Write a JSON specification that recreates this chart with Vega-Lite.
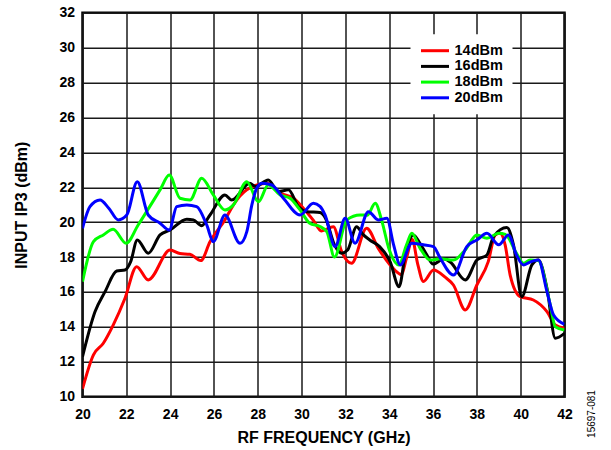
{
  "$schema": "https://vega.github.io/schema/vega-lite/v6.json",
  "width": 482,
  "height": 384,
  "autosize": {"type": "none"},
  "padding": {"left": 82.5, "top": 12.7, "right": 46.5, "bottom": 53.3},
  "background": "white",
  "config": {
    "font": "Liberation Sans",
    "view": {"stroke": "#000", "strokeWidth": 2.5},
    "axis": {
      "grid": true, "gridColor": "#1a1a1a", "gridWidth": 1.5, "gridOpacity": 1,
      "domain": false, "ticks": false, "tickSize": 0,
      "labelFont": "Liberation Sans", "labelFontSize": 14, "labelFontWeight": "bold", "labelColor": "#000",
      "titleFont": "Liberation Sans", "titleFontSize": 16, "titleFontWeight": "bold", "titleColor": "#000"
    }
  },
  "data": {"values": [
    {"f":20.0,"v":10.45,"s":"14dBm"},{"f":20.5,"v":12.4,"s":"14dBm"},{"f":20.95,"v":13.06,"s":"14dBm"},{"f":21.4,"v":14.1,"s":"14dBm"},{"f":21.94,"v":15.64,"s":"14dBm"},{"f":22.47,"v":17.45,"s":"14dBm"},{"f":23.0,"v":16.69,"s":"14dBm"},{"f":24.0,"v":18.4,"s":"14dBm"},{"f":24.45,"v":18.2,"s":"14dBm"},{"f":24.9,"v":18.16,"s":"14dBm"},{"f":25.4,"v":17.8,"s":"14dBm"},{"f":25.82,"v":18.88,"s":"14dBm"},{"f":26.5,"v":20.13,"s":"14dBm"},{"f":26.89,"v":20.99,"s":"14dBm"},{"f":27.5,"v":21.85,"s":"14dBm"},{"f":28.41,"v":22.23,"s":"14dBm"},{"f":29.02,"v":21.66,"s":"14dBm"},{"f":29.63,"v":21.37,"s":"14dBm"},{"f":30.08,"v":20.8,"s":"14dBm"},{"f":30.54,"v":20.1,"s":"14dBm"},{"f":30.9,"v":19.5,"s":"14dBm"},{"f":31.45,"v":19.74,"s":"14dBm"},{"f":31.83,"v":18.31,"s":"14dBm"},{"f":32.28,"v":17.64,"s":"14dBm"},{"f":32.97,"v":19.65,"s":"14dBm"},{"f":33.5,"v":18.5,"s":"14dBm"},{"f":34.04,"v":17.55,"s":"14dBm"},{"f":34.3,"v":17.2,"s":"14dBm"},{"f":34.55,"v":17.0,"s":"14dBm"},{"f":34.8,"v":18.0,"s":"14dBm"},{"f":35.05,"v":19.0,"s":"14dBm"},{"f":35.3,"v":17.6,"s":"14dBm"},{"f":35.56,"v":16.6,"s":"14dBm"},{"f":36.02,"v":17.26,"s":"14dBm"},{"f":36.55,"v":16.85,"s":"14dBm"},{"f":36.93,"v":16.4,"s":"14dBm"},{"f":37.47,"v":14.97,"s":"14dBm"},{"f":38.0,"v":16.4,"s":"14dBm"},{"f":38.52,"v":17.74,"s":"14dBm"},{"f":38.84,"v":19.27,"s":"14dBm"},{"f":39.06,"v":19.36,"s":"14dBm"},{"f":39.29,"v":18.7,"s":"14dBm"},{"f":39.52,"v":16.97,"s":"14dBm"},{"f":39.98,"v":15.73,"s":"14dBm"},{"f":40.58,"v":15.54,"s":"14dBm"},{"f":41.2,"v":14.87,"s":"14dBm"},{"f":41.58,"v":14.11,"s":"14dBm"},{"f":42.0,"v":13.92,"s":"14dBm"},

    {"f":20.0,"v":12.29,"s":"16dBm"},{"f":20.57,"v":14.87,"s":"16dBm"},{"f":21.03,"v":16.02,"s":"16dBm"},{"f":21.56,"v":17.2,"s":"16dBm"},{"f":21.94,"v":17.26,"s":"16dBm"},{"f":22.2,"v":17.74,"s":"16dBm"},{"f":22.5,"v":18.98,"s":"16dBm"},{"f":23.0,"v":18.22,"s":"16dBm"},{"f":23.54,"v":19.27,"s":"16dBm"},{"f":24.0,"v":19.55,"s":"16dBm"},{"f":24.76,"v":20.17,"s":"16dBm"},{"f":25.06,"v":20.13,"s":"16dBm"},{"f":25.44,"v":19.8,"s":"16dBm"},{"f":25.82,"v":20.41,"s":"16dBm"},{"f":26.5,"v":21.56,"s":"16dBm"},{"f":26.81,"v":21.27,"s":"16dBm"},{"f":27.63,"v":22.23,"s":"16dBm"},{"f":27.9,"v":22.04,"s":"16dBm"},{"f":28.48,"v":22.42,"s":"16dBm"},{"f":28.94,"v":21.75,"s":"16dBm"},{"f":29.4,"v":21.85,"s":"16dBm"},{"f":29.85,"v":20.89,"s":"16dBm"},{"f":30.24,"v":20.6,"s":"16dBm"},{"f":30.84,"v":20.55,"s":"16dBm"},{"f":31.1,"v":20.2,"s":"16dBm"},{"f":31.5,"v":18.7,"s":"16dBm"},{"f":31.83,"v":18.22,"s":"16dBm"},{"f":32.1,"v":18.4,"s":"16dBm"},{"f":32.51,"v":19.74,"s":"16dBm"},{"f":32.8,"v":19.3,"s":"16dBm"},{"f":33.11,"v":18.98,"s":"16dBm"},{"f":33.56,"v":18.6,"s":"16dBm"},{"f":34.04,"v":17.74,"s":"16dBm"},{"f":34.45,"v":16.3,"s":"16dBm"},{"f":34.73,"v":18.12,"s":"16dBm"},{"f":35.1,"v":19.27,"s":"16dBm"},{"f":35.4,"v":18.79,"s":"16dBm"},{"f":35.72,"v":18.12,"s":"16dBm"},{"f":36.0,"v":17.6,"s":"16dBm"},{"f":36.5,"v":17.9,"s":"16dBm"},{"f":36.8,"v":17.7,"s":"16dBm"},{"f":37.47,"v":16.69,"s":"16dBm"},{"f":38.0,"v":17.83,"s":"16dBm"},{"f":38.46,"v":18.12,"s":"16dBm"},{"f":38.76,"v":19.17,"s":"16dBm"},{"f":39.37,"v":19.69,"s":"16dBm"},{"f":39.67,"v":18.7,"s":"16dBm"},{"f":40.05,"v":15.73,"s":"16dBm"},{"f":40.51,"v":17.55,"s":"16dBm"},{"f":40.81,"v":17.83,"s":"16dBm"},{"f":41.2,"v":16.21,"s":"16dBm"},{"f":41.58,"v":13.35,"s":"16dBm"},{"f":42.0,"v":13.63,"s":"16dBm"},

    {"f":20.0,"v":16.59,"s":"18dBm"},{"f":20.5,"v":18.88,"s":"18dBm"},{"f":20.95,"v":19.27,"s":"18dBm"},{"f":21.4,"v":19.59,"s":"18dBm"},{"f":21.99,"v":18.79,"s":"18dBm"},{"f":22.54,"v":19.84,"s":"18dBm"},{"f":23.54,"v":21.85,"s":"18dBm"},{"f":23.96,"v":22.7,"s":"18dBm"},{"f":24.45,"v":21.37,"s":"18dBm"},{"f":24.91,"v":21.27,"s":"18dBm"},{"f":25.44,"v":22.52,"s":"18dBm"},{"f":25.97,"v":21.56,"s":"18dBm"},{"f":26.5,"v":20.7,"s":"18dBm"},{"f":26.89,"v":20.99,"s":"18dBm"},{"f":27.5,"v":22.32,"s":"18dBm"},{"f":28.03,"v":21.17,"s":"18dBm"},{"f":28.48,"v":22.13,"s":"18dBm"},{"f":29.02,"v":21.56,"s":"18dBm"},{"f":29.47,"v":21.37,"s":"18dBm"},{"f":29.93,"v":20.7,"s":"18dBm"},{"f":30.37,"v":19.94,"s":"18dBm"},{"f":30.84,"v":19.75,"s":"18dBm"},{"f":31.15,"v":19.46,"s":"18dBm"},{"f":31.5,"v":18.0,"s":"18dBm"},{"f":32.06,"v":20.13,"s":"18dBm"},{"f":32.67,"v":20.41,"s":"18dBm"},{"f":33.0,"v":20.4,"s":"18dBm"},{"f":33.36,"v":21.08,"s":"18dBm"},{"f":33.67,"v":20.03,"s":"18dBm"},{"f":33.98,"v":18.5,"s":"18dBm"},{"f":34.44,"v":17.55,"s":"18dBm"},{"f":34.79,"v":18.7,"s":"18dBm"},{"f":35.03,"v":19.36,"s":"18dBm"},{"f":35.41,"v":18.5,"s":"18dBm"},{"f":35.87,"v":17.83,"s":"18dBm"},{"f":36.33,"v":17.9,"s":"18dBm"},{"f":36.93,"v":17.83,"s":"18dBm"},{"f":37.47,"v":18.41,"s":"18dBm"},{"f":38.0,"v":19.27,"s":"18dBm"},{"f":38.46,"v":19.08,"s":"18dBm"},{"f":39.0,"v":19.36,"s":"18dBm"},{"f":39.3,"v":19.3,"s":"18dBm"},{"f":39.81,"v":18.22,"s":"18dBm"},{"f":40.13,"v":17.64,"s":"18dBm"},{"f":40.43,"v":17.83,"s":"18dBm"},{"f":40.8,"v":17.8,"s":"18dBm"},{"f":41.35,"v":15.26,"s":"18dBm"},{"f":41.58,"v":14.01,"s":"18dBm"},{"f":42.0,"v":13.82,"s":"18dBm"},

    {"f":20.0,"v":19.65,"s":"20dBm"},{"f":20.34,"v":20.89,"s":"20dBm"},{"f":20.8,"v":21.27,"s":"20dBm"},{"f":21.2,"v":20.8,"s":"20dBm"},{"f":21.63,"v":20.13,"s":"20dBm"},{"f":22.02,"v":20.41,"s":"20dBm"},{"f":22.5,"v":22.32,"s":"20dBm"},{"f":23.0,"v":20.41,"s":"20dBm"},{"f":23.54,"v":19.94,"s":"20dBm"},{"f":23.96,"v":19.55,"s":"20dBm"},{"f":24.3,"v":20.89,"s":"20dBm"},{"f":24.76,"v":20.99,"s":"20dBm"},{"f":25.21,"v":20.89,"s":"20dBm"},{"f":25.67,"v":19.84,"s":"20dBm"},{"f":25.97,"v":18.88,"s":"20dBm"},{"f":26.5,"v":20.41,"s":"20dBm"},{"f":27.19,"v":18.79,"s":"20dBm"},{"f":27.5,"v":19.46,"s":"20dBm"},{"f":27.73,"v":20.99,"s":"20dBm"},{"f":27.95,"v":21.94,"s":"20dBm"},{"f":28.2,"v":22.23,"s":"20dBm"},{"f":28.64,"v":22.13,"s":"20dBm"},{"f":29.17,"v":21.37,"s":"20dBm"},{"f":29.93,"v":20.41,"s":"20dBm"},{"f":30.54,"v":21.08,"s":"20dBm"},{"f":30.84,"v":20.9,"s":"20dBm"},{"f":31.07,"v":20.41,"s":"20dBm"},{"f":31.53,"v":18.6,"s":"20dBm"},{"f":31.99,"v":20.22,"s":"20dBm"},{"f":32.44,"v":18.79,"s":"20dBm"},{"f":33.05,"v":20.6,"s":"20dBm"},{"f":33.5,"v":20.13,"s":"20dBm"},{"f":33.89,"v":20.22,"s":"20dBm"},{"f":34.2,"v":18.7,"s":"20dBm"},{"f":34.5,"v":17.55,"s":"20dBm"},{"f":35.03,"v":18.79,"s":"20dBm"},{"f":35.56,"v":18.7,"s":"20dBm"},{"f":36.02,"v":18.6,"s":"20dBm"},{"f":36.3,"v":18.0,"s":"20dBm"},{"f":36.93,"v":16.97,"s":"20dBm"},{"f":37.54,"v":18.6,"s":"20dBm"},{"f":38.0,"v":18.98,"s":"20dBm"},{"f":38.46,"v":19.36,"s":"20dBm"},{"f":39.0,"v":18.7,"s":"20dBm"},{"f":39.44,"v":19.27,"s":"20dBm"},{"f":39.81,"v":18.12,"s":"20dBm"},{"f":40.13,"v":17.55,"s":"20dBm"},{"f":40.4,"v":17.7,"s":"20dBm"},{"f":40.81,"v":17.83,"s":"20dBm"},{"f":41.2,"v":16.02,"s":"20dBm"},{"f":41.5,"v":14.68,"s":"20dBm"},{"f":42.0,"v":14.15,"s":"20dBm"}
  ]},
  "encoding": {
    "x": {"field": "f", "type": "quantitative",
      "scale": {"domain": [20, 42], "nice": false, "zero": false},
      "axis": {"values": [20,22,24,26,28,30,32,34,36,38,40,42], "title": "RF FREQUENCY (GHz)", "labelPadding": 11, "titlePadding": 8, "labelFlush": false}}
  },
  "layer": [
    {
      "mark": {"type": "line", "interpolate": "monotone", "strokeWidth": 3, "clip": true},
      "encoding": {
        "y": {"field": "v", "type": "quantitative",
          "scale": {"domain": [10, 32], "nice": false, "zero": false},
          "axis": {"orient": "left", "values": [10,12,14,16,18,20,22,24,26,28,30,32], "title": "INPUT IP3 (dBm)", "labelPadding": 8, "titlePadding": 29, "labelFlush": false}},
        "color": {"field": "s", "type": "nominal",
          "scale": {"domain": ["14dBm","16dBm","18dBm","20dBm"], "range": ["#ff0000","#000000","#00ff00","#0000ff"]},
          "legend": {"title": null, "orient": "none", "legendX": 328, "legendY": 21.5, "fillColor": "white", "padding": 9,
            "symbolType": "M-1,0H3.67", "symbolStrokeWidth": 3, "symbolSize": 144, "rowPadding": 0.7,
            "labelFont": "Liberation Sans", "labelFontSize": 14.5, "labelFontWeight": "bold", "labelColor": "#000", "labelOffset": 20}}
      }
    },
    {
      "mark": {"type": "line", "opacity": 0},
      "encoding": {
        "y": {"field": "v", "type": "quantitative",
          "scale": {"domain": [10, 32], "nice": false, "zero": false},
          "axis": {"orient": "right", "grid": false, "labels": false, "ticks": false, "domain": false,
            "title": "15697-081", "titleFontSize": 10, "titleFontWeight": "normal", "titleAngle": 270,
            "titleAlign": "center", "titleBaseline": "middle", "titleX": 26.5, "titleY": 400.8}}
      }
    }
  ],
  "resolve": {"axis": {"y": "independent"}}
}
